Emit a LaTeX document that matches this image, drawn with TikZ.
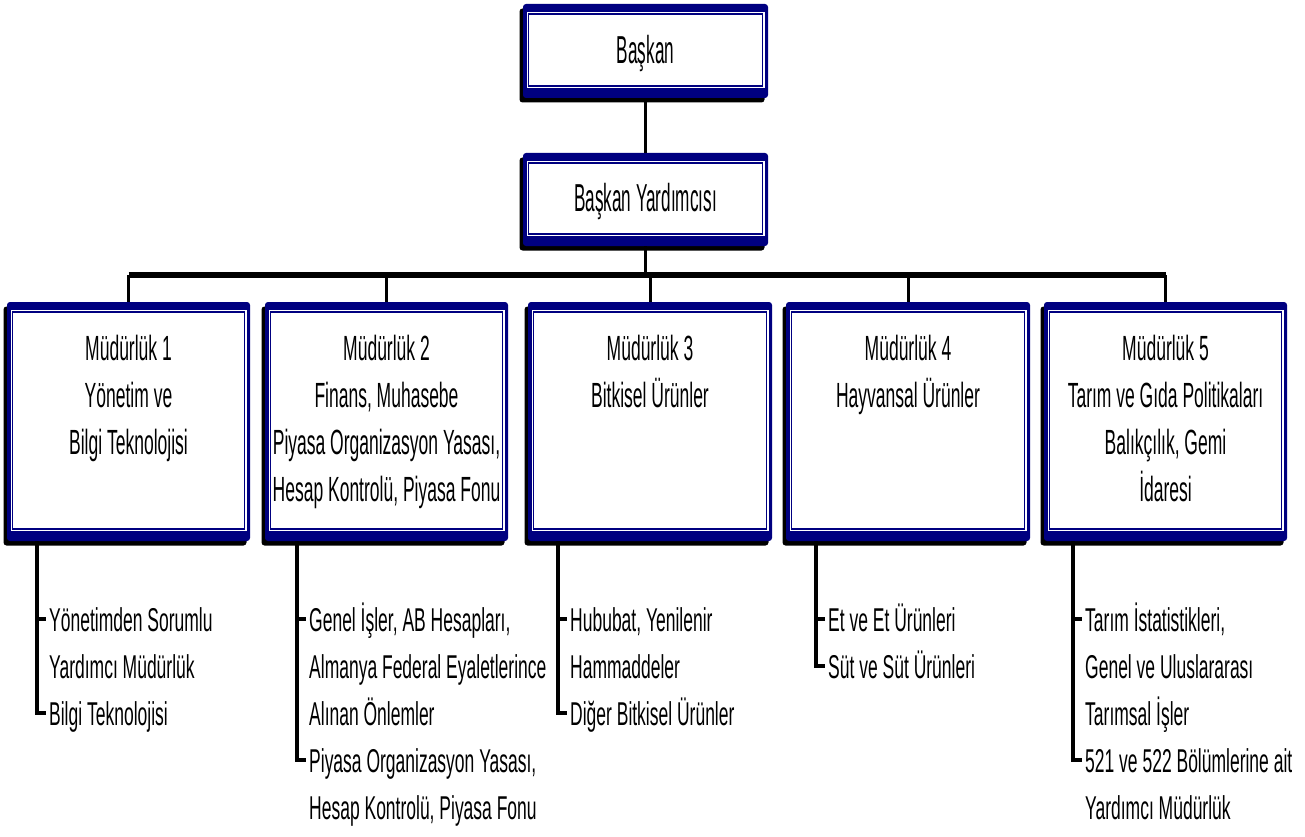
\documentclass[tikz,border=0pt]{standalone}
\usepackage{fontspec}
\setmainfont{Liberation Sans}
\newfontfamily\condensed{Liberation Sans}[FakeStretch=0.5]
\newfontfamily\subcondensed{Liberation Sans}[FakeStretch=0.53]
\newfontfamily\tallcondensed{Liberation Sans}[FakeStretch=0.44]
\usetikzlibrary{shadows}
\definecolor{navyframe}{HTML}{000080}

\begin{document}
\begin{tikzpicture}[x=1pt,y=-1pt,
  framebox/.style={inner sep=0pt, fill=navyframe, rounded corners=3pt,
    general shadow={fill=black, sharp corners, shadow xshift=-3.5pt, shadow yshift=-4.5pt},
    path picture={
      \fill[white, sharp corners] ([xshift=3.5pt,yshift=-8pt]path picture bounding box.north west)
        rectangle ([xshift=-3.5pt,yshift=10pt]path picture bounding box.south east);
      \draw[navyframe, line width=1.4pt, sharp corners] ([xshift=5.5pt,yshift=-10pt]path picture bounding box.north west)
        rectangle ([xshift=-5.5pt,yshift=12pt]path picture bounding box.south east);
    }},
  unitbox/.style={framebox, minimum width=243pt, minimum height=239pt},
  headbox/.style={framebox, minimum width=245pt, minimum height=94pt},
  toptext/.style={font=\tallcondensed\fontsize{39}{47}\selectfont, inner sep=0pt, anchor=base},
  boxtext/.style={font=\condensed\fontsize{35}{47}\selectfont, text width=320pt, align=flush center, inner sep=0pt, anchor=base},
  subtext/.style={font=\subcondensed\fontsize{33}{47}\selectfont, text width=320pt, align=flush left, inner sep=0pt, anchor=base west},
  conn/.style={line width=3pt},
  busline/.style={line width=6pt},
  subline/.style={line width=3.5pt},
  tick/.style={line width=4pt}
]
\useasboundingbox (0,0) rectangle (1305,837);

% top of the hierarchy
\node[headbox] (pres) at (645.5,51) {};
\node[toptext] (presT) at (645.5,64) {Başkan};
\node[headbox, minimum height=93pt] (vice) at (645.5,199.5) {};
\node[toptext] (viceT) at (645.5,211) {Başkan Yardımcısı};

% directorates
\node[unitbox] (b1) at (128.5,421.5) {};
\node[unitbox] (b2) at (386.5,421.5) {};
\node[unitbox, minimum width=244pt] (b3) at (650,421.5) {};
\node[unitbox, minimum width=244pt] (b4) at (908,421.5) {};
\node[unitbox] (b5) at (1165.5,421.5) {};

\node[boxtext] (t1) at (128.5,360.5) {Müdürlük 1\\Yönetim ve\\Bilgi Teknolojisi};
\node[boxtext] (t2) at (386.5,360.5) {Müdürlük 2\\Finans, Muhasebe\\Piyasa Organizasyon Yasası,\\Hesap Kontrolü, Piyasa Fonu};
\node[boxtext] (t3) at (650,360.5) {Müdürlük 3\\Bitkisel Ürünler};
\node[boxtext] (t4) at (908,360.5) {Müdürlük 4\\Hayvansal Ürünler};
\node[boxtext] (t5) at (1165.5,360.5) {Müdürlük 5\\Tarım ve Gıda Politikaları\\Balıkçılık, Gemi\\İdaresi};

% vertical chain and bus
\coordinate (bus) at (645.5,275);
\draw[conn] (pres.south) -- (vice.north);
\draw[conn] (vice.south) -- (bus);
\draw[busline] (b1.north |- bus) -- (b5.north |- bus);
\foreach \b in {b1,b2,b3,b4,b5}
  \draw[conn] (\b.north |- bus) -- (\b.north);

% sub-unit tick points
\coordinate (k11) at (37,619);   \coordinate (k12) at (37,713);
\coordinate (k21) at (297,619);  \coordinate (k22) at (297,760);
\coordinate (k31) at (558,619);  \coordinate (k32) at (558,713);
\coordinate (k41) at (816,619);  \coordinate (k42) at (816,666);
\coordinate (k51) at (1073,619); \coordinate (k52) at (1073,760);

\node[subtext] (s11) at ([xshift=12pt,yshift=-12pt]k11) {Yönetimden Sorumlu\\Yardımcı Müdürlük};
\node[subtext] (s12) at ([xshift=12pt,yshift=-12pt]k12) {Bilgi Teknolojisi};
\node[subtext] (s21) at ([xshift=12pt,yshift=-12pt]k21) {Genel İşler, AB Hesapları,\\Almanya Federal Eyaletlerince\\Alınan Önlemler};
\node[subtext] (s22) at ([xshift=12pt,yshift=-12pt]k22) {Piyasa Organizasyon Yasası,\\Hesap Kontrolü, Piyasa Fonu};
\node[subtext] (s31) at ([xshift=12pt,yshift=-12pt]k31) {Hububat, Yenilenir\\Hammaddeler};
\node[subtext] (s32) at ([xshift=12pt,yshift=-12pt]k32) {Diğer Bitkisel Ürünler};
\node[subtext] (s41) at ([xshift=12pt,yshift=-12pt]k41) {Et ve Et Ürünleri};
\node[subtext] (s42) at ([xshift=12pt,yshift=-12pt]k42) {Süt ve Süt Ürünleri};
\node[subtext] (s51) at ([xshift=12pt,yshift=-12pt]k51) {Tarım İstatistikleri,\\Genel ve Uluslararası\\Tarımsal İşler};
\node[subtext] (s52) at ([xshift=12pt,yshift=-12pt]k52) {521 ve 522 Bölümlerine ait\\Yardımcı Müdürlük};

\foreach \i in {1,...,5}{
  \draw[subline] (k\i1 |- b\i.south) -- (k\i2);
  \draw[tick] ([xshift=-1.75pt]k\i1) -- ++(11,0);
  \draw[tick] ([xshift=-1.75pt]k\i2) -- ++(11,0);
}
\end{tikzpicture}
\end{document}
